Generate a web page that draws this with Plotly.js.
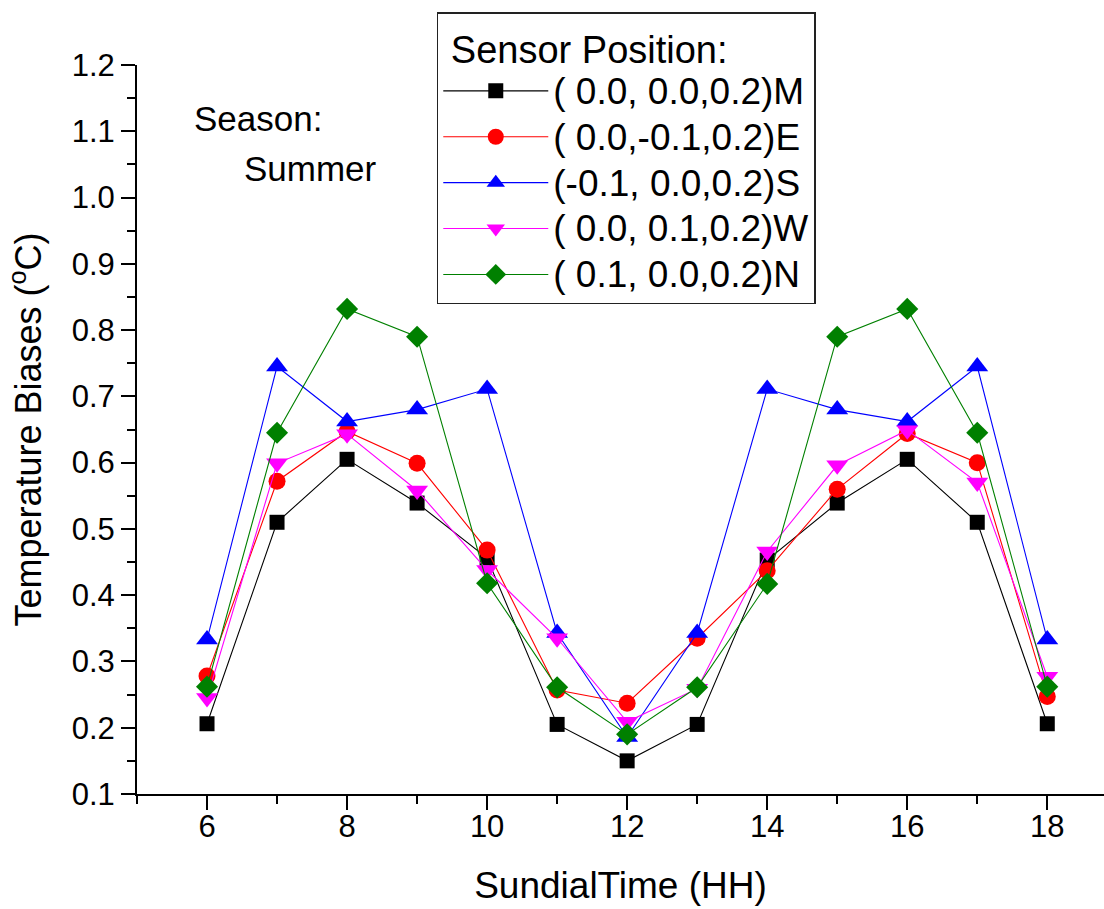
<!DOCTYPE html>
<html>
<head>
<meta charset="utf-8">
<script src="https://cdn.plot.ly/plotly-3.0.1.min.js"></script>
<style>
  html, body { margin: 0; padding: 0; background: #fff; }
  #chart { width: 1104px; height: 909px; }
</style>
</head>
<body>
<div id="chart"></div>
<script>
// Sundial time (hours)
const hours = [6, 7, 8, 9, 10, 11, 12, 13, 14, 15, 16, 17, 18];

// Series names (sensor positions)
const seriesNames = [
  "( 0.0, 0.0,0.2)M",
  "( 0.0,-0.1,0.2)E",
  "(-0.1, 0.0,0.2)S",
  "( 0.0, 0.1,0.2)W",
  "( 0.1, 0.0,0.2)N"
];

// Temperature biases (°C)
const biasM = [0.206, 0.510, 0.605, 0.539, 0.456, 0.205, 0.150, 0.205, 0.453, 0.539, 0.605, 0.510, 0.206];
const biasE = [0.278, 0.572, 0.647, 0.599, 0.468, 0.257, 0.237, 0.335, 0.437, 0.560, 0.644, 0.600, 0.247];
const biasS = [0.333, 0.745, 0.662, 0.680, 0.711, 0.343, 0.186, 0.343, 0.711, 0.680, 0.662, 0.745, 0.333];
const biasW = [0.245, 0.599, 0.643, 0.558, 0.438, 0.335, 0.209, 0.259, 0.466, 0.596, 0.649, 0.570, 0.277];
const biasN = [0.262, 0.645, 0.832, 0.790, 0.418, 0.261, 0.190, 0.261, 0.417, 0.790, 0.832, 0.645, 0.262];

const seriesValues = [biasM, biasE, biasS, biasW, biasN];
const seriesColors = ["#000000", "#ff0000", "#0000ff", "#ff00ff", "#008000"];
const seriesSymbols = ["square", "circle", "triangle-up", "triangle-down", "diamond"];
const seriesSizes = [15, 17, 19, 19, 17];

const FONT = "Liberation Sans, Arial, Helvetica, sans-serif";

const traces = seriesValues.map((vals, i) => ({
  type: "scatter",
  mode: "lines+markers",
  name: '<span style="font-size:37px">' + seriesNames[i] + '</span>',
  x: hours,
  y: vals,
  line: { color: seriesColors[i], width: 1.1 },
  marker: { symbol: seriesSymbols[i], size: seriesSizes[i], color: seriesColors[i], line: { width: 0 } }
}));

const layout = {
  width: 1104,
  height: 909,
  margin: { l: 137, r: 0, t: 65, b: 115 },
  paper_bgcolor: "#ffffff",
  plot_bgcolor: "#ffffff",
  font: { family: FONT, color: "#000000" },
  showlegend: true,
  xaxis: {
    range: [5, 18.81],
    tick0: 0,
    dtick: 2,
    showgrid: false,
    zeroline: false,
    showline: true,
    linecolor: "#000000",
    linewidth: 2,
    ticks: "outside",
    ticklen: 14,
    tickwidth: 2,
    tickcolor: "#000000",
    ticklabelstandoff: -10,
    tickfont: { family: FONT, size: 31, color: "#000000" },
    minor: { dtick: 1, ticks: "outside", ticklen: 8, tickwidth: 2, tickcolor: "#000000", showgrid: false },
    title: { text: "SundialTime (HH)", font: { family: FONT, size: 37, color: "#000000" }, standoff: 29 }
  },
  yaxis: {
    range: [0.1, 1.2],
    tick0: 0,
    dtick: 0.1,
    tickformat: ".1f",
    showgrid: false,
    zeroline: false,
    showline: true,
    linecolor: "#000000",
    linewidth: 2,
    ticks: "outside",
    ticklen: 14,
    tickwidth: 2,
    tickcolor: "#000000",
    ticklabelstandoff: 0,
    tickfont: { family: FONT, size: 31, color: "#000000" },
    minor: { dtick: 0.05, ticks: "outside", ticklen: 8, tickwidth: 2, tickcolor: "#000000", showgrid: false },
    title: { text: "Temperature Biases (<sup>o</sup>C)", font: { family: FONT, size: 36, color: "#000000" }, standoff: 19 }
  },
  legend: {
    x: 0.31,
    xanchor: "left",
    y: 1.0727,
    yanchor: "top",
    bgcolor: "#ffffff",
    bordercolor: "#222222",
    borderwidth: 1.5,
    font: { family: FONT, size: 33, color: "#000000" },
    title: { text: "\u00a0Sensor Position:", side: "top", font: { family: FONT, size: 38, color: "#000000" } },
    itemwidth: 105,
    tracegroupgap: 0,
    traceorder: "normal"
  },
  annotations: [
    { xref: "paper", yref: "paper", x: (192 - 137) / 967, y: (794 - 118) / 729, xanchor: "left", yanchor: "middle",
      text: "Season:", showarrow: false, font: { family: FONT, size: 35, color: "#000000" } },
    { xref: "paper", yref: "paper", x: (242 - 137) / 967, y: (794 - 168) / 729, xanchor: "left", yanchor: "middle",
      text: "Summer", showarrow: false, font: { family: FONT, size: 35, color: "#000000" } }
  ]
};

Plotly.newPlot("chart", traces, layout, { displayModeBar: false, staticPlot: true });
</script>
</body>
</html>
